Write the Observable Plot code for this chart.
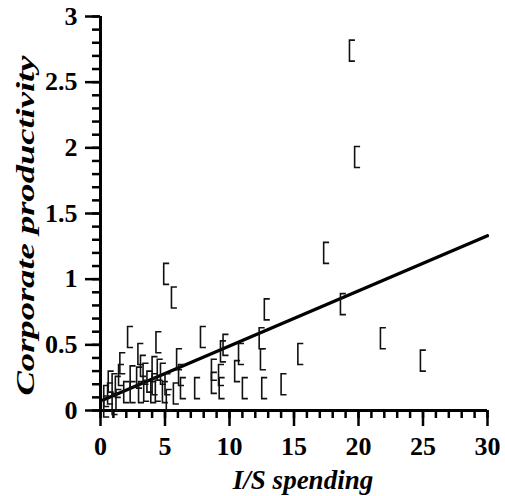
<!DOCTYPE html>
<html>
<head>
<meta charset="utf-8">
<script src="https://cdn.jsdelivr.net/npm/d3@7"></script>
<script src="https://cdn.jsdelivr.net/npm/@observablehq/plot@0.6"></script>
<style>
  html, body { margin: 0; padding: 0; background: #fff; }
</style>
</head>
<body>
<div id="chart"></div>
<script>
// Scatter data: I/S spending (x) vs corporate productivity (y)
const spending = [19.3, 19.7, 17.3, 4.9, 5.5, 12.7, 18.6, 15.3, 21.7, 24.8,
  14.0, 12.5, 12.3, 12.4, 11.0, 10.7, 10.4, 9.5, 9.3, 9.15,
  9.2, 8.6, 8.6, 7.75, 7.3, 6.2, 6.05, 5.9, 5.65, 5.1,
  5.0, 4.65, 4.4, 4.3, 4.0, 3.3, 2.9, 2.8, 2.3, 2.1,
  1.5, 1.4, 1.15, 0.9, 0.9, 0.55, 0.25, 0.25, 1.8, 2.3,
  2.95, 3.35, 3.9, 4.25, 4.8, 3.1, 0.6, 1.2, 3.6, 4.0];
const productivity = [2.74, 1.93, 1.20, 1.04, 0.86, 0.77, 0.81, 0.43, 0.55, 0.38,
  0.20, 0.17, 0.55, 0.39, 0.17, 0.43, 0.30, 0.50, 0.45, 0.27,
  0.17, 0.31, 0.21, 0.56, 0.17, 0.17, 0.27, 0.39, 0.13, 0.08,
  0.20, 0.28, 0.31, 0.52, 0.33, 0.28, 0.43, 0.25, 0.26, 0.56,
  0.36, 0.27, 0.18, 0.20, 0.05, 0.13, 0.11, 0.03, 0.14, 0.14,
  0.14, 0.15, 0.14, 0.15, 0.14, 0.34, 0.22, 0.08, 0.22, 0.20];

// Fitted line end points
const fitX = [0.2, 30];
const fitY = [0.08, 1.33];

// Axis ticks and labels
const xTicks = [0, 5, 10, 15, 20, 25, 30];
const xTickLabels = ["0", "5", "10", "15", "20", "25", "30"];
const yTicks = [0, 0.5, 1, 1.5, 2, 2.5, 3];
const yTickLabels = ["0", "0.5", "1", "1.5", "2", "2.5", "3"];
const xMinorTicks = d3.range(0, 31, 1);
const yMinorTicks = d3.range(0, 31, 1).map(i => i / 10);

const xTitle = "I/S spending";
const yTitle = "Corporate productivity";

const points = spending.map((x, i) => ({x, y: productivity[i]}));
const fit = fitX.map((x, i) => ({x, y: fitY[i]}));

// "[" shaped marker
const bracket = {
  draw(context, size) {
    const h = Math.sqrt(size / Math.PI);
    const w = h * 0.52;
    context.moveTo(w, -h);
    context.lineTo(0, -h);
    context.lineTo(0, h);
    context.lineTo(w, h);
  }
};

const font = "'Liberation Serif', 'Times New Roman', serif";

const chart = Plot.plot({
  width: 505,
  height: 496,
  marginLeft: 100,
  marginRight: 18,
  marginTop: 16,
  marginBottom: 86,
  x: {domain: [0, 30]},
  y: {domain: [0, 3]},
  style: {fontFamily: font, fontWeight: "bold", background: "#fff", color: "#000"},
  marks: [
    Plot.axisX({ticks: xMinorTicks, tickSize: 8, text: null, label: null, strokeWidth: 2.5}),
    Plot.axisX({ticks: xTicks, tickSize: 16, tickPadding: 10, label: null, strokeWidth: 2.5,
      fontSize: 26, fontWeight: "bold", tickFormat: (d) => xTickLabels[xTicks.indexOf(d)]}),
    Plot.axisY({ticks: yMinorTicks, tickSize: 8, text: null, label: null, strokeWidth: 2.5}),
    Plot.axisY({ticks: yTicks, tickSize: 15, tickPadding: 8, label: null, strokeWidth: 2.5,
      fontSize: 26, fontWeight: "bold", tickFormat: (d) => yTickLabels[yTicks.indexOf(d)]}),
    Plot.ruleX([0], {y1: 0, y2: 3, strokeWidth: 3}),
    Plot.ruleY([0], {x1: 0, x2: 30, strokeWidth: 3}),
    Plot.line(fit, {x: "x", y: "y", stroke: "#000", strokeWidth: 3.3}),
    Plot.dot(points, {x: "x", y: "y", r: 10.5, symbol: bracket, stroke: "#111", strokeWidth: 1.6, fill: "none"}),
    Plot.text([xTitle], {text: d => d, frameAnchor: "bottom", dx: 9, dy: 70,
      fontSize: 27, fontStyle: "italic", fontWeight: "bold", lineAnchor: "middle"}),
    Plot.text([yTitle], {text: d => d, frameAnchor: "left", dx: -75, dy: 12, rotate: -90,
      fontSize: 25, fontStyle: "italic", fontWeight: "bold", lineAnchor: "middle"})
  ]
});

chart.querySelectorAll("text").forEach(t => {
  if (t.textContent === yTitle) {
    t.setAttribute("text-anchor", "start");
    t.setAttribute("x", "-170");
    t.setAttribute("textLength", "340");
    t.setAttribute("lengthAdjust", "spacingAndGlyphs");
  }
});

document.getElementById("chart").appendChild(chart);
</script>
</body>
</html>
